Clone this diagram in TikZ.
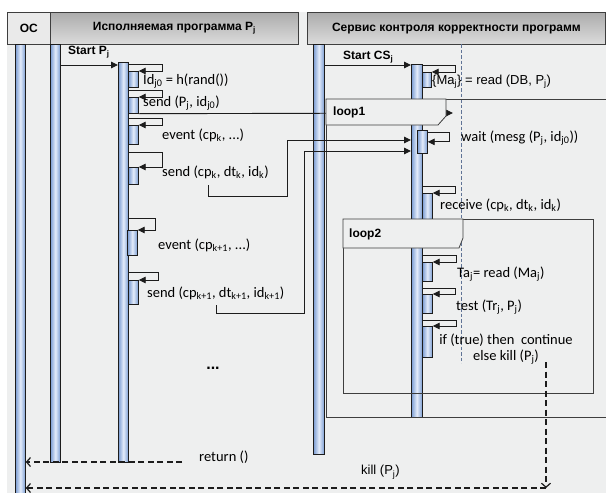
\documentclass[tikz,border=0pt]{standalone}
\usepackage{fontspec}
\setmainfont{Liberation Sans}
\newfontfamily\calib{Carlito}
\usetikzlibrary{arrows.meta}
\definecolor{bgc}{RGB}{238,239,239}
\definecolor{hdl}{RGB}{234,234,234}
\definecolor{hdt}{RGB}{172,172,172}
\definecolor{hdb}{RGB}{220,220,220}
\definecolor{bb}{RGB}{122,156,210}
\definecolor{bw}{RGB}{228,236,250}
\definecolor{ln}{RGB}{28,28,28}
\definecolor{dl}{RGB}{95,115,150}
\newcommand\sub[1]{\textsubscript{#1}}
\begin{document}
\begin{tikzpicture}[x=1pt,y=-1pt,
  bar/.style={rectangle, draw=ln, line width=0.7pt, left color=bb, right color=bb, middle color=bw, inner sep=0pt, minimum width=10pt, anchor=north west},
  msg/.style={draw=ln, line width=0.9pt, -{Triangle[length=7pt,width=6.5pt]}},
  smsg/.style={draw=ln, line width=0.9pt, {Triangle[length=7pt,width=6.5pt]}-},
  ret/.style={draw=ln, line width=1.2pt, dash pattern=on 6pt off 3.5pt},
  rtip/.style={ret, -{Straight Barb[length=4pt,width=9pt]}},
  frm/.style={draw=ln!85, line width=0.8pt},
  tabbox/.style={frm, fill=bgc},
  cl/.style={font=\calib\fontsize{14.5}{16}\selectfont, anchor=west, inner sep=0pt},
  al/.style={font=\fontsize{13}{15}\selectfont, anchor=west, inner sep=0pt},
  bl/.style={font=\bfseries\fontsize{12}{14}\selectfont, anchor=west, inner sep=0pt},
  hd/.style={draw=ln!85, line width=0.8pt, inner sep=0pt, anchor=north west, minimum height=32pt, font=\bfseries\fontsize{12}{14}\selectfont}
]
\useasboundingbox (0,0) rectangle (606,493);
\fill[bgc] (7,12) rectangle (606,493);

% headers
\node[hd, fill=hdl, minimum width=43pt] (hOC) at (7,12) {ОС};
\node[hd, top color=hdt, bottom color=hdb, minimum width=248pt] (hP) at (50,12) {Исполняемая программа P\sub{j}};
\node[hd, top color=hdt, bottom color=hdb, minimum width=298pt] (hC) at (307,12) {Сервис контроля корректности программ};

% thin dashed lifeline
\coordinate (dtop) at (461,44);
\coordinate (dbot) at (461,363);
\draw[dl, line width=0.6pt, dash pattern=on 3.5pt off 2pt] (dtop) -- (dbot);

% lifelines and activations
\node[bar, minimum height=449pt] (ocl) at (15,44) {};
\node[bar, minimum height=418pt] (pl) at (50,44) {};
\node[bar, minimum height=400pt] (pa) at (118,62) {};
\node[bar, minimum height=410pt, minimum width=11pt] (cl) at (313,44) {};
\node[bar, minimum height=353pt, minimum width=11pt] (ca) at (411,64) {};

% frames
\draw[frm] (606,99) -- (326,99) -- (326,417) -- (606,417);
\draw[frm] (343,219) rectangle (593,393);

% small activation bars, program side
\node[bar, minimum height=16pt] (p1) at (128,71) {};
\node[bar, minimum height=16pt] (p2) at (128,97) {};
\node[bar, minimum height=19pt] (p3) at (128,125) {};
\node[bar, minimum height=17pt] (p4) at (128,167) {};
\node[bar, minimum height=25pt] (p5) at (127,230) {};
\node[bar, minimum height=24pt] (p6) at (128,280) {};
% small activation bars, service side
\node[bar, minimum height=15pt, minimum width=9pt] (c1) at (422,72) {};
\node[bar, minimum height=23pt] (w) at (417,130) {};
\node[bar, minimum height=26pt] (r) at (422,193) {};
\node[bar, minimum height=19pt] (t1) at (422,262) {};
\node[bar, minimum height=19pt] (t2) at (422,294) {};
\node[bar, minimum height=31pt] (t3) at (422,326) {};

% self messages
\draw[smsg] (p1.north east) -- ++(24,0) -- ++(0,-7) -- ++(-34,0);
\draw[smsg] (p2.north east) -- ++(24,0) -- ++(0,-7) -- ++(-34,0);
\draw[smsg] (p3.north east) -- ++(24,0) -- ++(0,-7) -- ++(-34,0);
\draw[smsg] (p4.north east) -- ++(24,0) -- ++(0,-15) -- ++(-34,0);
\draw[smsg] (p5.north east) -- ++(18,0) -- ++(0,-12) -- ++(-28,0);
\draw[smsg] (p6.north east) -- ++(20,0) -- ++(0,-8) -- ++(-30,0);
\draw[smsg] (c1.north east) -- ++(24,0) -- ++(0,-7) -- ++(-33,0);
\draw[smsg] (w.east) -- ++(22,0) -- ++(0,-9) -- ++(-22,0);
\draw[smsg] (r.north east) -- ++(23,0) -- ++(0,-7) -- ++(-33,0);
\draw[smsg] (t1.north east) -- ++(24,0) -- ++(0,-7) -- ++(-34,0);
\draw[smsg] (t2.north east) -- ++(23,0) -- ++(0,-6) -- ++(-33,0);
\draw[smsg] (t3.north east) -- ++(24,0) -- ++(0,-6) -- ++(-34,0);

% start messages
\coordinate (hS) at (0,65);
\draw[msg] (pl.east |- hS) -- (pa.west |- hS);
\draw[msg] (cl.east |- hS) -- (ca.west |- hS);

% send (Pj, idj0) -- hidden under loop1 tab
\coordinate (m0) at (453,113);
\draw[msg] (p2.south east) -- (m0);

% send (cpk ...) to wait
\coordinate (k1) at (208,185);
\coordinate (kb1) at (287,196);
\coordinate (ka1) at (0,140);
\draw[msg] (k1) |- (kb1) |- (ca.west |- ka1);
\coordinate (k2) at (216,305);
\coordinate (kb2) at (304,313);
\coordinate (ka2) at (0,151);
\draw[msg] (k2) |- (kb2) |- (ca.west |- ka2);

% loop tabs
\draw[tabbox] (326,99) -- (446,99) -- (446,116) -- (438,125) -- (326,125) -- cycle;
\draw[tabbox] (343,219) -- (463,219) -- (463,238) -- (459,248) -- (343,248) -- cycle;
\node[bl] (l1) at (333,112) {loop1};
\node[bl] (l2) at (349,234) {loop2};

% return and kill
\coordinate (rs) at (182,462);
\draw[rtip] (rs) -- (ocl.east |- rs);
\coordinate (ks) at (546,362);
\coordinate (kc) at (546,488);
\draw[rtip] (ks) -- (kc);
\draw[rtip] (kc) -- (ocl.east |- kc);

% labels
\node[bl] (tSP) at (68,52) {Start P\sub{j}};
\node[bl] (tSC) at (343,57) {Start CS\sub{j}};
\node[cl] (L1) at (143,81) {Id\sub{j0} = h(rand())};
\node[cl] (L2) at (143,103) {send (P\sub{j}, id\sub{j0})};
\node[cl] (L3) at (162,135) {event (cp\sub{k}, ...)};
\node[cl] (L4) at (162,172) {send (cp\sub{k}, dt\sub{k}, id\sub{k})};
\node[cl] (L5) at (158,245) {event (cp\sub{k+1}, ...)};
\node[cl] (L6) at (147,293) {send (cp\sub{k+1}, dt\sub{k+1}, id\sub{k+1})};
\node[font=\bfseries\fontsize{16}{18}\selectfont, inner sep=0pt] (dots) at (213,368) {...};
\node[cl] (Lr) at (199,457) {return ()};
\node[al] (Lk) at (361,472) {kill (P\sub{j})};
\node[al] (C1) at (432,82) {\{Ma\sub{j}\} = read (DB, P\sub{j})};
\node[cl] (C2) at (461,138) {wait (mesg (P\sub{j}, id\sub{j0}))};
\node[cl] (C3) at (440,205) {receive (cp\sub{k}, dt\sub{k}, id\sub{k})};
\node[cl] (C4) at (457,274) {Ta\sub{j}= read (Ma\sub{j})};
\node[cl] (C5) at (456,307) {test (Tr\sub{j}, P\sub{j})};
\node[cl, align=center, anchor=center] (C6) at (506,349) {if (true) then\ \ continue\\else kill (P\sub{j})};
\end{tikzpicture}
\end{document}
